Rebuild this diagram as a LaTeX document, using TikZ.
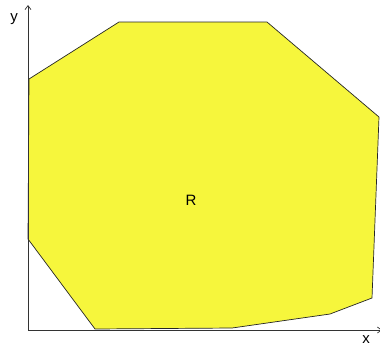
\documentclass[tikz,border=0pt]{standalone}
\usepackage{fontspec}
\setmainfont{Liberation Sans}
\usetikzlibrary{arrows.meta}

\definecolor{regionyellow}{RGB}{246,246,60}

\begin{document}
\begin{tikzpicture}[x=1pt, y=-1pt,
  axis/.style={-{Straight Barb[length=4pt,width=6pt]}, draw=black!80, line width=0.7pt},
  region/.style={fill=regionyellow, draw=black!85, line width=0.7pt},
  lbl/.style={font=\fontsize{15}{17}\selectfont, inner sep=0pt}
]
\useasboundingbox (0,0) rectangle (380,349);

\filldraw[region] (29,79) -- (119,22) -- (267,22) -- (379,117) -- (372,298) -- (330,314)
  -- (232,328) -- (95,329) -- (28,239) -- cycle;

\coordinate (O) at (28,330);
\coordinate (xend) at (382,330);
\coordinate (yend) at (28,5);
\draw[axis] (O) -- (xend);
\draw[axis] (O) -- (yend);

\node[lbl] (ylabel) at (14,19) {y};
\node[lbl] (xlabel) at (366,340) {x};
\node[lbl] (rlabel) at (191,200) {R};
\end{tikzpicture}
\end{document}
